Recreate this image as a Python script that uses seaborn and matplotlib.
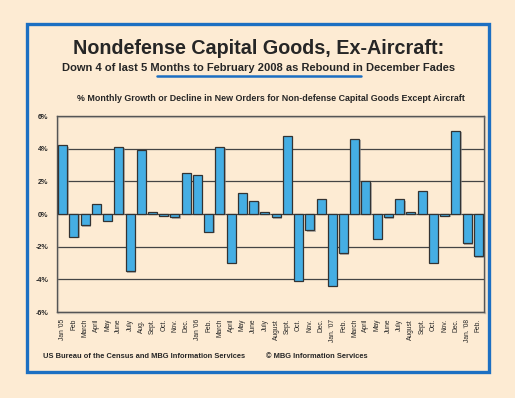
# plot.py
# ─────────────────────────────────────────────
# Nondefense capital goods ex-aircraft, monthly % change
# Jan '05 → Feb '08, bar chart on a peach card.
# ─────────────────────────────────────────────

import numpy as np
import pandas as pd
import matplotlib
matplotlib.use('Agg')
import matplotlib.pyplot as plt
import matplotlib.patheffects as pe
from matplotlib.patches import Rectangle
from matplotlib.lines import Line2D
import seaborn as sns

# ── Data ────────────────────────────────────────────────────────────────
months = ["Jan '05", "Feb", "March", "April", "May", "June", "July", "Aug.",
          "Sept.", "Oct.", "Nov.", "Dec.",
          "Jan '06", "Feb.", "March", "April", "May", "June", "July", "August",
          "Sept.", "Oct.", "Nov.", "Dec.",
          "Jan. '07", "Feb.", "March", "April", "May", "June", "July", "August",
          "Sept.", "Oct.", "Nov.", "Dec.",
          "Jan. '08", "Feb."]

growth_2005 = [4.2, -1.4, -0.7, 0.6, -0.4, 4.1, -3.5, 3.9, 0.1, -0.1, -0.2, 2.5]
growth_2006 = [2.4, -1.1, 4.1, -3.0, 1.3, 0.8, 0.1, -0.2, 4.8, -4.1, -1.0, 0.9]
growth_2007 = [-4.4, -2.4, 4.6, 2.0, -1.5, -0.2, 0.9, 0.1, 1.4, -3.0, -0.1, 5.1]
growth_2008 = [-1.8, -2.6]

y_ticks = [-6, -4, -2, 0, 2, 4, 6]

growth = growth_2005 + growth_2006 + growth_2007 + growth_2008
df = pd.DataFrame({"idx": range(len(months)), "growth": growth})

# ── Style ───────────────────────────────────────────────────────────────
BG     = '#FDEBD3'
BAR    = '#45AEE4'
BORDER = '#1C6FC2'

sns.set_style("white")
plt.rcParams['font.family'] = ['Liberation Sans', 'DejaVu Sans']

fig = plt.figure(figsize=(5.15, 3.98), dpi=100, facecolor=BG)
ax = fig.add_axes([0.1107, 0.216, 0.829, 0.4925])
ax.set_facecolor(BG)

# ── Bars ────────────────────────────────────────────────────────────────
sns.barplot(data=df, x="idx", y="growth", color=BAR, width=0.8,
            edgecolor='#333333', linewidth=0.9, saturation=1, ax=ax, zorder=3)
for p in ax.patches:
    p.set_path_effects([pe.SimplePatchShadow(offset=(1, -1), shadow_rgbFace='#8a8a8a',
                                             alpha=0.6), pe.Normal()])

ax.set_ylim(-6, 6)
ax.set_xlim(-0.5, len(months) - 0.5)
ax.set_yticks(y_ticks)
ax.set_yticklabels([f"{t}%" for t in y_ticks], fontsize=5.2, fontweight='bold')
ax.set_xticks(range(len(months)))
ax.set_xticklabels(months, rotation=90, fontsize=4.8)
ax.tick_params(axis='x', direction='out', length=3, width=0.7, pad=2, color='#333333')
ax.tick_params(axis='y', length=0, pad=6)
ax.set_xlabel("")
ax.set_ylabel("")

for t in y_ticks:
    ax.axhline(t, color='#444444', linewidth=0.9, zorder=1)
for s in ax.spines.values():
    s.set_color('#555555')
    s.set_linewidth(1.0)
    s.set_path_effects([pe.SimpleLineShadow(offset=(1, -1), shadow_color='#999999'),
                        pe.Normal()])

# ── Card border and titles ─────────────────────────────────────────────
fig.patches.append(Rectangle((0.0524, 0.0653), 0.897, 0.874, transform=fig.transFigure,
                             fill=False, edgecolor=BORDER, linewidth=2.4))

fig.text(0.503, 0.878, "Nondefense Capital Goods, Ex-Aircraft:",
         ha='center', va='center', fontsize=14.2, fontweight='bold')
fig.text(0.503, 0.829, "Down 4 of last 5 Months to February 2008 as Rebound in December Fades",
         ha='center', va='center', fontsize=8.0, fontweight='bold')
fig.lines.append(Line2D([0.305, 0.701], [0.809, 0.809], transform=fig.transFigure,
                        color=BORDER, linewidth=1.8))
fig.text(0.527, 0.753,
         "% Monthly Growth or Decline in New Orders for Non-defense Capital Goods Except Aircraft",
         ha='center', va='center', fontsize=6.4, fontweight='bold')

fig.text(0.083, 0.105, "US Bureau of the Census and MBG Information Services",
         ha='left', va='center', fontsize=5.4, fontweight='bold')
fig.text(0.516, 0.105, "\u00a9 MBG Information Services",
         ha='left', va='center', fontsize=5.4, fontweight='bold')

fig.savefig("out.png", dpi=100, facecolor=BG)
